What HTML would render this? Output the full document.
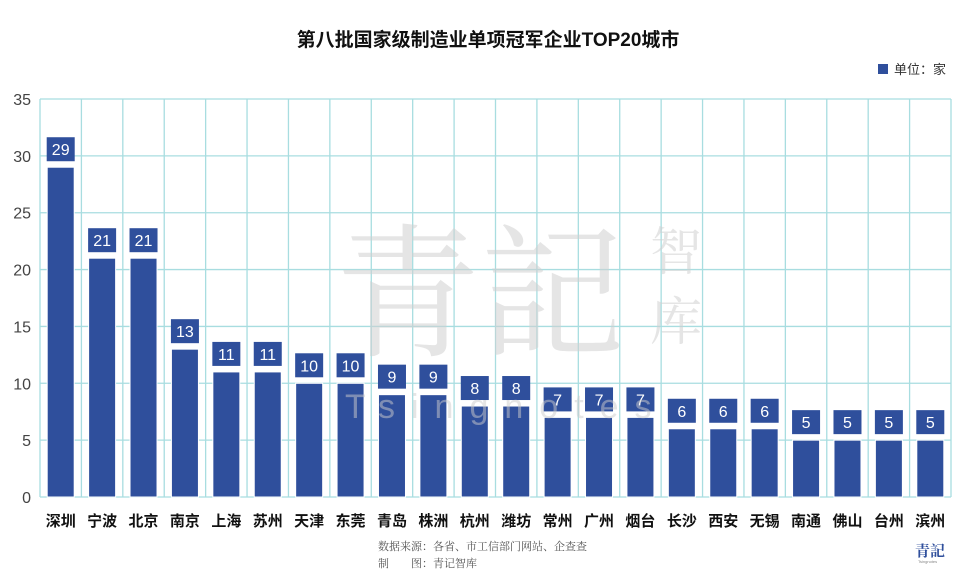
<!DOCTYPE html>
<html><head><meta charset="utf-8"><style>
body{margin:0;background:#fff;}
svg text{font-family:"Liberation Sans","Noto Sans CJK SC",sans-serif;}
</style></head><body>
<svg width="968" height="574" xmlns="http://www.w3.org/2000/svg">
<rect width="968" height="574" fill="#fff"/>
<text x="488" y="46" text-anchor="middle" font-size="19" font-weight="bold" fill="#111">第八批国家级制造业单项冠军企业TOP20城市</text>
<rect x="878" y="64" width="10" height="10" fill="#2f4f9c"/>
<text x="894" y="74" font-size="13" fill="#333">单位：家</text>
<g id="grid" stroke="#a8dde0" stroke-width="1.3" fill="none"></g>
<g font-size="16" fill="#444" text-anchor="end" id="yl"></g>
<g id="bars"></g>
<text x="480" y="345" text-anchor="middle" font-size="145" fill="#d0d0d0" opacity="0.55" style="font-family:'Noto Serif CJK SC',serif">青記</text>
<text x="650" y="270" font-size="52" fill="#d0d0d0" opacity="0.55" style="font-family:'Noto Serif CJK SC',serif">智</text>
<text x="650" y="340" font-size="52" fill="#d0d0d0" opacity="0.55" style="font-family:'Noto Serif CJK SC',serif">库</text>
<text x="345" y="418" font-size="34" fill="#ccc" opacity="0.5" letter-spacing="16">Tsingnotes</text>
<text x="378" y="550" font-size="11" fill="#555" style="font-family:'Noto Serif CJK SC',serif">数据来源：各省、市工信部门网站、企查查</text>
<text x="378" y="567" font-size="11" fill="#555" style="font-family:'Noto Serif CJK SC',serif">制　　图：青记智库</text>
<text x="915" y="556" font-size="15" fill="#2f4f9c" font-weight="bold" style="font-family:'Noto Serif CJK SC',serif">青記</text>
<text x="918" y="563" font-size="4" fill="#888">Tsingnotes</text>
</svg>
<script>
const names=["深圳","宁波","北京","南京","上海","苏州","天津","东莞","青岛","株洲","杭州","潍坊","常州","广州","烟台","长沙","西安","无锡","南通","佛山","台州","滨州"];
const vals=[29,21,21,13,11,11,10,10,9,9,8,8,7,7,7,6,6,6,5,5,5,5];
const L=40,R=951,T=99,B=497,n=22,cw=(R-L)/n,k=(B-T)/35;
const ns="http://www.w3.org/2000/svg";
function el(p,t,a,txt){const e=document.createElementNS(ns,t);for(const x in a)e.setAttribute(x,a[x]);if(txt!=null)e.textContent=txt;p.appendChild(e);return e;}
const g=document.getElementById('grid'),yl=document.getElementById('yl'),bs=document.getElementById('bars');
for(let v=0;v<=35;v+=5){const y=B-v*k;el(g,'line',{x1:L,x2:R,y1:y,y2:y});el(yl,'text',{x:31,y:y+6},v);}
for(let i=0;i<=n;i++){const x=L+i*cw;el(g,'line',{x1:x,x2:x,y1:T,y2:B});}
vals.forEach((v,i)=>{const cx=L+cw*(i+0.5),y=B-v*k;
el(bs,'rect',{x:cx-13.5,y:y,width:27,height:B-y,fill:'#2f4f9c',stroke:'#fff','stroke-width':1});
el(bs,'rect',{x:cx-14,y:y-30,width:28,height:24,fill:'#2f4f9c'});
el(bs,'text',{x:cx,y:y-12,'text-anchor':'middle','font-size':16,fill:'#fff'},v);
el(bs,'text',{x:cx,y:526,'text-anchor':'middle','font-size':15,'font-weight':'bold',fill:'#111'},names[i]);
});
</script>
</body></html>
